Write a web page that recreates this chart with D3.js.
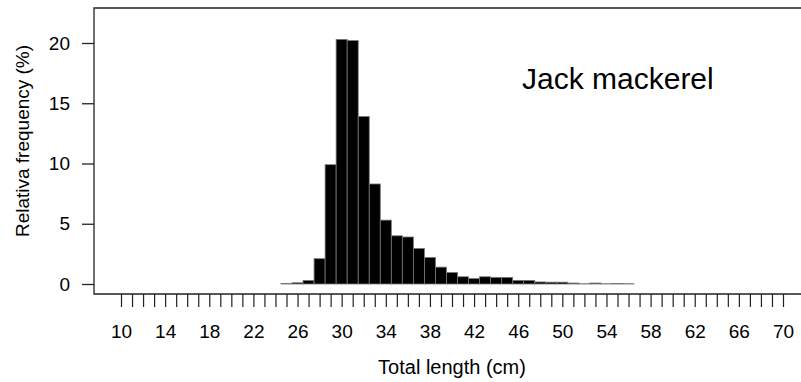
<!DOCTYPE html>
<html>
<head>
<meta charset="utf-8">
<script src="https://cdn.jsdelivr.net/npm/d3@7"></script>
<style>
  body { margin: 0; background: #fff; }
  svg { display: block; font-family: "Liberation Sans", Arial, sans-serif; }
</style>
</head>
<body>
<div id="chart"></div>
<script>
// length classes (cm) and relative frequency (%)
let lengths = [25, 26, 27, 28, 29, 30, 31, 32, 33, 34, 35, 36, 37, 38, 39, 40,
               41, 42, 43, 44, 45, 46, 47, 48, 49, 50, 51, 52, 53, 54, 55, 56];
let freqs = [0.05, 0.1, 0.3, 2.1, 9.9, 20.3, 20.2, 13.9, 8.3, 5.3, 4.0, 3.9, 2.95, 2.2, 1.4, 0.95,
             0.6, 0.45, 0.6, 0.55, 0.55, 0.3, 0.3, 0.17, 0.15, 0.15, 0.08, 0.02, 0.08, 0.02, 0.05, 0.02];
let xTicks = d3.range(10, 71, 1);
let xLabels = d3.range(10, 71, 4);
let yTicks = [0, 5, 10, 15, 20];
let title = "Jack mackerel";

let width = 801, height = 382;
let frame = { left: 94, top: 8, bottom: 294 };
let fontSize = 19;

let svg = d3.select("#chart").append("svg")
  .attr("width", width)
  .attr("height", height);

let x = d3.scaleLinear().domain([10, 70]).range([121, 783]);
let y = d3.scaleLinear().domain([0, 20]).range([284, 43]);

let data = lengths.map(function(d, i) { return { len: d, val: freqs[i] }; });

// bars
svg.append("g").selectAll("rect")
  .data(data)
  .enter()
  .append("rect")
  .attr("x", function(d) { return x(d.len - 0.5); })
  .attr("width", function(d) { return x(d.len + 0.5) - x(d.len - 0.5); })
  .attr("y", function(d) { return y(d.val); })
  .attr("height", function(d) { return y(0) - y(d.val); })
  .attr("fill", "#000")
  .attr("stroke", "#777")
  .attr("stroke-width", 0.8);

// frame (open on the right)
svg.append("path")
  .attr("d", "M" + width + "," + frame.top + "H" + frame.left + "V" + frame.bottom + "H" + width)
  .attr("fill", "none")
  .attr("stroke", "#222")
  .attr("stroke-width", 1.3);

// y axis
let yAxis = d3.axisLeft(y).tickValues(yTicks).tickSize(12).tickPadding(12);
let gy = svg.append("g")
  .attr("transform", "translate(" + frame.left + ",0)")
  .call(yAxis);
gy.select(".domain").remove();
gy.selectAll(".tick line").attr("stroke", "#222").attr("stroke-width", 1.3);
gy.selectAll(".tick text").attr("font-size", fontSize).attr("fill", "#000")
  .attr("font-family", "\"Liberation Sans\", Arial, sans-serif");

// x axis
let xAxis = d3.axisBottom(x).tickValues(xTicks).tickSize(13).tickPadding(18)
  .tickFormat(function(d) { return xLabels.indexOf(d) >= 0 ? d : ""; });
let gx = svg.append("g")
  .attr("transform", "translate(0," + frame.bottom + ")")
  .call(xAxis);
gx.select(".domain").remove();
gx.selectAll(".tick line").attr("stroke", "#222").attr("stroke-width", 1.2);
gx.selectAll(".tick text").attr("font-size", fontSize).attr("fill", "#000")
  .attr("font-family", "\"Liberation Sans\", Arial, sans-serif");

// axis titles
svg.append("text")
  .attr("x", 452)
  .attr("y", 374)
  .attr("text-anchor", "middle")
  .attr("font-size", 20)
  .text("Total length (cm)");

svg.append("text")
  .attr("transform", "translate(29,141) rotate(-90)")
  .attr("text-anchor", "middle")
  .attr("font-size", fontSize)
  .text("Relativa frequency (%)");

// species label
svg.append("text")
  .attr("x", 522)
  .attr("y", 89)
  .attr("font-size", 30)
  .text(title);
</script>
</body>
</html>
